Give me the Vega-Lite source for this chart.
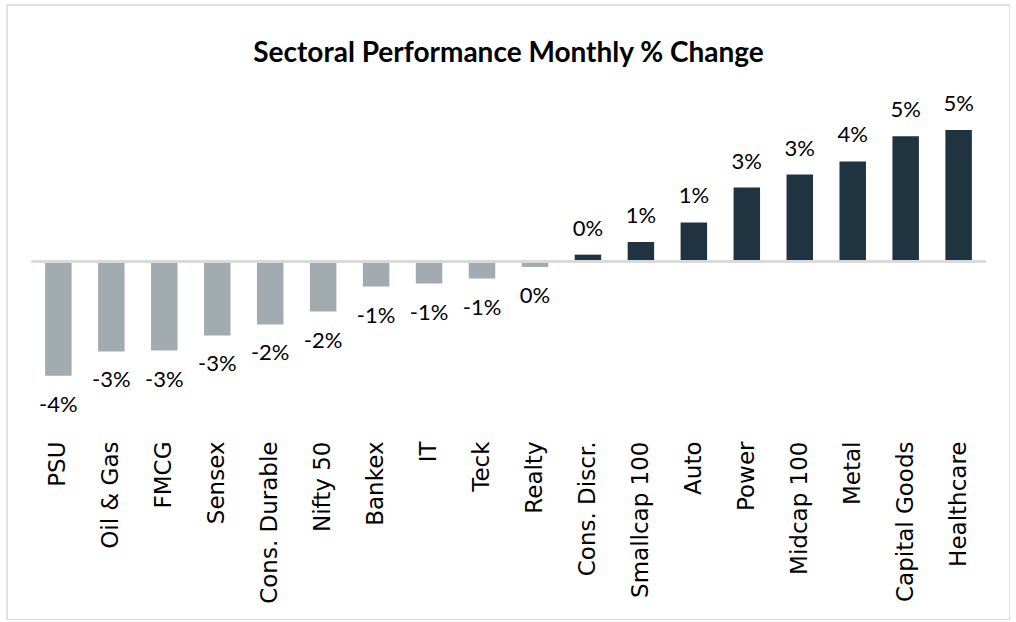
{
  "$schema": "https://vega.github.io/schema/vega-lite/v6.json",
  "autosize": {"type": "none"},
  "width": 1003,
  "height": 615,
  "padding": {"left": 7, "top": 5, "right": 0, "bottom": 0},
  "background": "#ffffff",
  "title": {
    "text": "Sectoral Performance Monthly % Change",
    "font": "Lato",
    "fontWeight": "bold",
    "fontSize": 28,
    "color": "#000000",
    "anchor": "middle",
    "frame": "group",
    "baseline": "alphabetic",
    "offset": -85
  },
  "config": {
    "locale": {"number": {"decimal": ".", "thousands": ",", "grouping": [3], "currency": ["$", ""], "minus": "-"}},
    "view": {"stroke": "#d9d9d9", "strokeWidth": 1.5}
  },
  "data": {
    "values": [
      {"sector": "PSU", "v": -0.0415},
      {"sector": "Oil & Gas", "v": -0.0327},
      {"sector": "FMCG", "v": -0.0324},
      {"sector": "Sensex", "v": -0.0269},
      {"sector": "Cons. Durable", "v": -0.0229},
      {"sector": "Nifty 50", "v": -0.0182},
      {"sector": "Bankex", "v": -0.0091},
      {"sector": "IT", "v": -0.0080},
      {"sector": "Teck", "v": -0.0062},
      {"sector": "Realty", "v": -0.0020},
      {"sector": "Cons. Discr.", "v": 0.0025},
      {"sector": "Smallcap 100", "v": 0.0071},
      {"sector": "Auto", "v": 0.0142},
      {"sector": "Power", "v": 0.0269},
      {"sector": "Midcap 100", "v": 0.0316},
      {"sector": "Metal", "v": 0.0364},
      {"sector": "Capital Goods", "v": 0.0455},
      {"sector": "Healthcare", "v": 0.0478}
    ]
  },
  "encoding": {
    "x": {
      "field": "sector",
      "type": "nominal",
      "sort": null,
      "scale": {"paddingInner": 0.5, "paddingOuter": 0.72},
      "axis": {
        "title": null,
        "orient": "bottom",
        "offset": -181,
        "labelAngle": -90,
        "labelAlign": "right",
        "labelBaseline": "middle",
        "labelFont": "DejaVu Sans",
        "labelFontSize": 23,
        "labelColor": "#000000",
        "labelPadding": 2,
        "ticks": false,
        "domain": false,
        "grid": false
      }
    }
  },
  "layer": [
    {
      "mark": {"type": "bar"},
      "encoding": {
        "y": {
          "field": "v",
          "type": "quantitative",
          "scale": {"domain": [-0.13036, 0.09327], "nice": false, "zero": false},
          "axis": null
        },
        "y2": {"datum": 0},
        "color": {
          "condition": {"test": "datum.v > 0", "value": "#1f3440"},
          "value": "#a2abaf"
        }
      }
    },
    {
      "mark": {"type": "rule", "color": "#d9d9d9", "strokeWidth": 2},
      "encoding": {
        "x": {"datum": "PSU", "bandPosition": -0.5},
        "x2": {"datum": "Healthcare", "bandPosition": 1.5},
        "y": {"datum": 0}
      }
    },
    {
      "transform": [{"filter": "datum.v > 0"}],
      "mark": {"type": "text", "font": "Lato", "fontSize": 22, "color": "#000000", "baseline": "alphabetic", "dy": -19},
      "encoding": {
        "y": {"field": "v", "type": "quantitative"},
        "text": {"field": "v", "type": "quantitative", "format": ".0%"}
      }
    },
    {
      "transform": [{"filter": "datum.v <= 0"}],
      "mark": {"type": "text", "font": "Lato", "fontSize": 22, "color": "#000000", "baseline": "top", "dy": 19},
      "encoding": {
        "y": {"field": "v", "type": "quantitative"},
        "text": {"field": "v", "type": "quantitative", "format": ".0%"}
      }
    }
  ]
}
